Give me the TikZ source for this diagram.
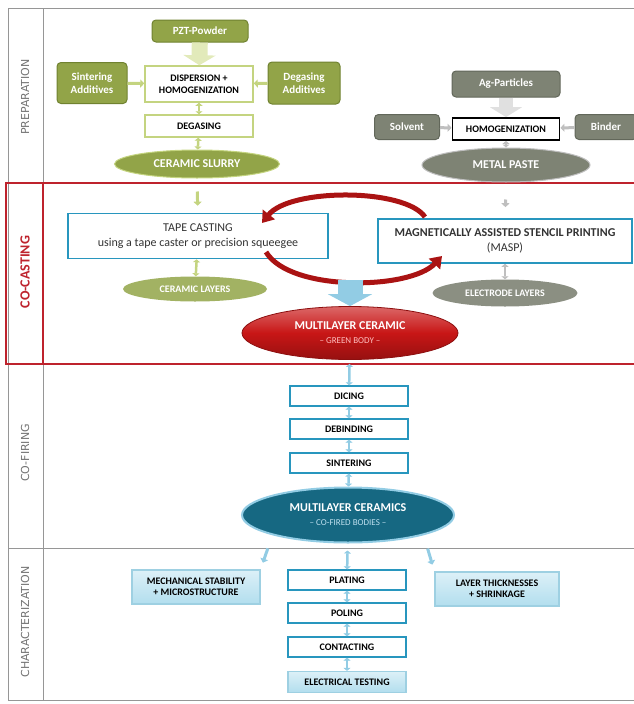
\documentclass[tikz,border=0pt]{standalone}
\usepackage{fontspec}
\setmainfont{Carlito}
\newfontfamily\sidefont{DejaVu Sans}
\usetikzlibrary{shapes.geometric,arrows.meta}

\definecolor{prepgreen}{RGB}{146,164,72}
\definecolor{prepline}{RGB}{112,130,48}
\definecolor{lightgreen}{RGB}{196,212,128}
\definecolor{palegreen}{RGB}{226,234,186}
\definecolor{pastegray}{RGB}{126,131,116}
\definecolor{grayline}{RGB}{98,103,90}
\definecolor{castred}{RGB}{190,35,45}
\definecolor{bodyred}{RGB}{200,22,22}
\definecolor{boxblue}{RGB}{40,150,190}
\definecolor{paleblue}{RGB}{178,222,238}
\definecolor{arrblue}{RGB}{146,204,228}
\definecolor{firedteal}{RGB}{22,104,130}
\definecolor{framegray}{RGB}{150,150,150}

\begin{document}
\begin{tikzpicture}[x=1pt,y=-1pt,
	greenbox/.style={draw=prepline, fill=prepgreen, rounded corners=4pt, line width=1pt,
		text=white, align=center, font=\bfseries\fontsize{11}{12.5}\selectfont},
	graybox/.style={greenbox, draw=grayline, fill=pastegray},
	whitebox/.style={draw=lightgreen, line width=1.5pt, fill=white, align=center,
		font=\bfseries\fontsize{10}{12}\selectfont},
	blob/.style={ellipse, inner sep=0pt, text=white, align=center,
		font=\bfseries\fontsize{12}{14}\selectfont},
	castbox/.style={draw=boxblue, line width=1.6pt, fill=white, align=center, text=black!80},
	stepbox/.style={draw=boxblue, line width=1.3pt, fill=white, minimum width=118pt,
		minimum height=20pt, font=\bfseries\fontsize{10}{11}\selectfont},
	testbox/.style={stepbox, draw=boxblue!45, top color=paleblue!45!white,
		bottom color=paleblue, align=center},
	sidelabel/.style={rotate=90, text=black!55, font=\sidefont\fontsize{11}{12}\selectfont},
	sarr/.style={{Triangle[length=3pt,width=7pt]}-{Triangle[length=3pt,width=7pt]}, line width=2.5pt},
	darr/.style={-{Triangle[length=4pt,width=8pt]}, line width=3pt},
	blockarr/.style={-{Triangle[length=10pt,width=32pt]}, line width=16pt},
	cycarr/.style={-{Triangle[length=11pt,width=15pt]}, line width=5pt, draw=bodyred!85!black}]
	\useasboundingbox (0,0) rectangle (634,704);

	% frame and sections
	\draw[framegray, line width=0.8pt] (640,8) -- (8,8) -- (8,700) -- (640,700);
	\draw[framegray, line width=0.8pt] (43,8) -- (43,700);
	\draw[framegray, line width=0.8pt] (8,548) -- (640,548);
	\draw[castred, line width=1.3pt] (6,183) rectangle (640,364);
	\draw[castred, line width=1.3pt] (43,183) -- (43,364);

	\node[sidelabel] (labprep) at (25,97) {PREPARATION};
	\node[sidelabel, text=castred, font=\bfseries\fontsize{14}{15}\selectfont] (labcast) at (25,272) {CO-CASTING};
	\node[sidelabel] (labfire) at (25,453) {CO-FIRING};
	\node[sidelabel] (labchar) at (25,622) {CHARACTERIZATION};

	% preparation: ceramic side
	\node[greenbox, minimum width=96pt, minimum height=22pt] (pzt) at (200,31) {PZT-Powder};
	\node[greenbox, minimum width=70pt, minimum height=41pt] (sinter) at (92,83) {Sintering\\Additives};
	\node[whitebox, minimum width=108pt, minimum height=36pt] (disp) at (199,84) {DISPERSION +\\HOMOGENIZATION};
	\node[greenbox, minimum width=72pt, minimum height=42pt] (degadd) at (304,83) {Degasing\\Additives};
	\node[whitebox, minimum width=108pt, minimum height=22pt] (degas) at (199,126) {DEGASING};
	\node[blob, fill=prepgreen, draw=lightgreen, line width=1pt, minimum width=165pt, minimum height=28pt] (slurry) at (197,164) {CERAMIC SLURRY};

	% preparation: metal side
	\node[graybox, minimum width=108pt, minimum height=26pt] (ag) at (506,84) {Ag-Particles};
	\node[graybox, minimum width=65pt, minimum height=25pt] (solvent) at (407,127) {Solvent};
	\node[whitebox, draw=black, line width=1.8pt, minimum width=107pt, minimum height=22pt] (homog) at (506,129) {HOMOGENIZATION};
	\node[graybox, minimum width=62pt, minimum height=25pt] (binder) at (606,127) {Binder};
	\node[blob, fill=pastegray, draw=black!25, line width=1pt, minimum width=168pt, minimum height=34pt] (paste) at (506,165) {METAL PASTE};

	\draw[blockarr, draw=palegreen] (pzt) -- (disp);
	\draw[darr, draw=lightgreen] (sinter) -- (disp);
	\draw[darr, draw=lightgreen] (degadd) -- (disp);
	\draw[sarr, draw=lightgreen] (disp) -- (degas);
	\draw[sarr, draw=lightgreen] (degas) -- (slurry);
	\draw[blockarr, draw=black!12, line width=14pt] (ag) -- (homog);
	\draw[darr, draw=black!25] (solvent) -- (homog);
	\draw[darr, draw=black!25] (binder) -- (homog);
	\draw[sarr, draw=black!25] (homog) -- (paste);

	% co-casting
	\node[castbox, minimum width=260pt, minimum height=45pt, font=\fontsize{12}{15}\selectfont] (tape) at (198,236)
		{TAPE CASTING\\using a tape caster or precision squeegee};
	\node[castbox, minimum width=254pt, minimum height=44pt, font=\fontsize{12}{15}\selectfont] (masp) at (505,241)
		{{\bfseries MAGNETICALLY ASSISTED STENCIL PRINTING}\\(MASP)};
	\node[blob, fill=prepgreen!85!white, font=\bfseries\fontsize{10}{11}\selectfont, minimum width=144pt, minimum height=25pt] (cerlay) at (195,289) {CERAMIC LAYERS};
	\node[blob, fill=pastegray!90!white, font=\bfseries\fontsize{10}{11}\selectfont, minimum width=145pt, minimum height=27pt] (elelay) at (505,293) {ELECTRODE LAYERS};
	\node[blob, draw=bodyred!70!black, line width=0.8pt, top color=bodyred!65!white, bottom color=bodyred!75!black, middle color=bodyred,
		minimum width=216pt, minimum height=53pt] (green) at (350,333)
		{MULTILAYER CERAMIC\\{\mdseries\fontsize{9}{10}\selectfont\color{red!25!white} – GREEN BODY –}};

	\draw[darr, draw=lightgreen, shorten <=13pt, shorten >=7pt] (slurry) -- (tape);
	\draw[darr, draw=black!25, shorten <=17pt, shorten >=11pt] (paste) -- (masp);
	\draw[sarr, draw=lightgreen] (tape) -- (cerlay);
	\draw[sarr, draw=black!25] (masp) -- (elelay);

	\coordinate (cycA) at (425,217);
	\coordinate (cycB) at (262,223);
	\coordinate (cycC) at (266,252);
	\coordinate (cycD) at (442,256);
	\coordinate (cycbot) at (350,280);
	\draw[cycarr] (cycA) .. controls (405,188) and (290,188) .. (cycB);
	\draw[cycarr] (cycC) .. controls (290,292) and (410,290) .. (cycD);
	\draw[blockarr, draw=arrblue, line width=25pt, -{Triangle[length=12pt,width=44pt]}] (cycbot) -- (green);

	% co-firing
	\foreach \n/\y/\t in {dicing/396/DICING, debind/429/DEBINDING, sinterb/463/SINTERING}
		\node[stepbox] (\n) at (349,\y) {\t};
	\node[blob, fill=firedteal, draw=arrblue, line width=2pt, minimum width=212pt, minimum height=55pt] (cofired) at (348,515)
		{MULTILAYER CERAMICS\\{\mdseries\fontsize{9}{10}\selectfont\color{arrblue!60!white} – CO-FIRED BODIES –}};

	\draw[sarr, draw=arrblue, shorten <=4pt] (green) -- (dicing);
	\foreach \a/\b in {dicing/debind, debind/sinterb, sinterb/cofired}
		\draw[sarr, draw=arrblue] (\a) -- (\b);

	% characterization
	\node[testbox, minimum width=128pt, minimum height=34pt] (mech) at (196,587) {MECHANICAL STABILITY\\+ MICROSTRUCTURE};
	\foreach \n/\y/\t in {plating/580/PLATING, poling/613/POLING, contact/647/CONTACTING}
		\node[stepbox] (\n) at (347,\y) {\t};
	\node[testbox, minimum height=21pt] (etest) at (347,682) {ELECTRICAL TESTING};
	\node[testbox, minimum width=124pt, minimum height=34pt] (layer) at (497,589) {LAYER THICKNESSES\\+ SHRINKAGE};

	\draw[sarr, draw=arrblue, shorten <=7pt] (cofired) -- (plating);
	\draw[darr, draw=arrblue, shorten <=14pt, shorten >=7pt] (cofired.south west) -- (mech.north east);
	\draw[darr, draw=arrblue, shorten <=14pt, shorten >=7pt] (cofired.south east) -- (layer.north west);
	\foreach \a/\b in {plating/poling, poling/contact, contact/etest}
		\draw[sarr, draw=arrblue] (\a) -- (\b);
\end{tikzpicture}
\end{document}
